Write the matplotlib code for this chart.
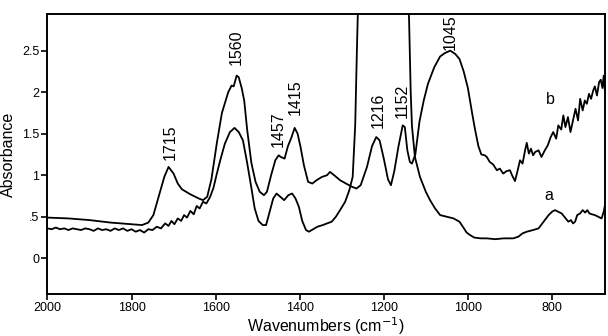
"""IR spectra a and b, absorbance vs wavenumber"""
import numpy as np
import matplotlib
matplotlib.use('Agg')
import matplotlib.pyplot as plt

plt.rcParams['font.family'] = ['Liberation Sans', 'DejaVu Sans']

#%% spectrum b (labelled peaks)
b_wn = [2000, 1950, 1900, 1850, 1800, 1775, 1760, 1748, 1735, 1722, 1712, 1700,
        1690, 1680, 1660, 1640, 1630, 1620, 1610, 1597, 1585, 1570, 1562, 1557,
        1550, 1545, 1538, 1532, 1525, 1515, 1505, 1495, 1485, 1478, 1468, 1458,
        1450, 1445, 1436, 1428, 1420, 1412, 1405, 1398, 1390, 1380, 1370, 1360,
        1347, 1335, 1328, 1318, 1304, 1290, 1275, 1265, 1255, 1240, 1228, 1218,
        1210, 1200, 1190, 1183, 1175, 1165, 1155, 1150, 1144, 1138, 1133, 1125,
        1115, 1105, 1095, 1080, 1066, 1055, 1042, 1030, 1020, 1010, 1000, 990,
        983, 975, 968, 960, 955, 948, 940, 931, 924, 916, 908, 900, 895, 888,
        882, 876, 870, 864, 860, 855, 850, 845, 840, 832, 825, 817, 810, 803,
        797, 790, 785, 778, 773, 768, 762, 756, 749, 744, 738, 733, 727, 722,
        717, 712, 707, 702, 698, 693, 688, 684, 680, 677, 674]
b_abs = [0.49, 0.48, 0.46, 0.43, 0.41, 0.40, 0.43, 0.52, 0.75, 0.98, 1.10, 1.02,
         0.90, 0.83, 0.77, 0.72, 0.70, 0.74, 0.95, 1.39, 1.75, 2.00, 2.08, 2.07,
         2.20, 2.18, 2.05, 1.90, 1.55, 1.15, 0.92, 0.80, 0.76, 0.80, 1.00, 1.18,
         1.24, 1.22, 1.20, 1.35, 1.45, 1.57, 1.50, 1.34, 1.12, 0.92, 0.90, 0.94,
         0.98, 1.00, 1.04, 1.00, 0.94, 0.90, 0.86, 0.84, 0.88, 1.10, 1.35, 1.46,
         1.42, 1.20, 0.95, 0.88, 1.05, 1.35, 1.60, 1.58, 1.30, 1.16, 1.14, 1.25,
         1.65, 1.90, 2.10, 2.30, 2.43, 2.47, 2.50, 2.46, 2.40, 2.25, 2.05, 1.75,
         1.55, 1.35, 1.25, 1.24, 1.22, 1.16, 1.13, 1.06, 1.08, 1.02, 1.05, 1.06, 1.00, 0.93,
         1.05, 1.18, 1.14, 1.30, 1.39, 1.26, 1.32, 1.24, 1.28, 1.30, 1.22, 1.30, 1.36, 1.46,
         1.52, 1.44, 1.60, 1.55, 1.72, 1.58, 1.70, 1.52, 1.68, 1.80, 1.66, 1.92, 1.78, 1.90,
         1.86, 1.98, 1.92, 2.02, 2.07, 1.96, 2.12, 2.15, 2.05, 2.20, 2.00]

#%% spectrum a
a_wn = [2000, 1990, 1980, 1970, 1960, 1950, 1940, 1930, 1920, 1910, 1900, 1890,
        1880, 1870, 1860, 1850, 1840, 1830, 1820, 1810, 1800, 1790, 1780, 1770,
        1760, 1750, 1740, 1730, 1720, 1712, 1705, 1698, 1690, 1682, 1675, 1668,
        1660, 1652, 1645, 1638, 1630, 1622, 1613, 1605, 1598, 1589, 1578, 1566,
        1555, 1545, 1535, 1525, 1515, 1507, 1498, 1488, 1480, 1472, 1463, 1455,
        1446, 1437, 1427, 1418, 1410, 1402, 1394, 1385, 1378, 1368, 1358, 1345,
        1335, 1324, 1314, 1304, 1292, 1282, 1274, 1268, 1264, 1260, 1230, 1180,
        1145, 1140, 1136, 1133, 1126, 1114, 1100, 1090, 1078, 1066, 1050, 1034,
        1020, 1012, 1003, 995, 985, 970, 955, 935, 915, 892, 880, 870, 860, 845,
        832, 820, 808, 800, 793, 785, 777, 769, 761, 755, 750, 745, 740, 733,
        727, 721, 716, 711, 705, 698, 690, 682, 677, 674]
a_abs = [0.36, 0.35, 0.37, 0.35, 0.36, 0.34, 0.36, 0.35, 0.34, 0.36, 0.35, 0.33,
         0.36, 0.34, 0.35, 0.33, 0.36, 0.34, 0.36, 0.33, 0.35, 0.32, 0.34, 0.31,
         0.35, 0.34, 0.38, 0.36, 0.42, 0.39, 0.45, 0.41, 0.48, 0.45, 0.52, 0.49,
         0.57, 0.53, 0.63, 0.60, 0.68, 0.66, 0.74, 0.85, 1.00, 1.18, 1.38, 1.52,
         1.57, 1.52, 1.42, 1.15, 0.85, 0.60, 0.45, 0.40, 0.40, 0.55, 0.72, 0.78,
         0.74, 0.70, 0.76, 0.78, 0.72, 0.62, 0.45, 0.34, 0.32, 0.35, 0.38, 0.40,
         0.42, 0.44, 0.50, 0.58, 0.68, 0.82, 0.98, 1.60, 2.50, 3.30, 4.20, 4.20,
         3.30, 2.90, 2.00, 1.59, 1.22, 0.98, 0.80, 0.70, 0.60, 0.52, 0.50, 0.48,
         0.44, 0.38, 0.31, 0.28, 0.25, 0.24, 0.24, 0.23, 0.24, 0.24, 0.26, 0.30, 0.32, 0.34,
         0.36, 0.44, 0.52, 0.56, 0.58, 0.56, 0.54, 0.49, 0.44, 0.46, 0.42, 0.44, 0.52, 0.54,
         0.58, 0.55, 0.58, 0.54, 0.53, 0.52, 0.50, 0.48, 0.56, 0.64]

peak_labels = ['1715', '1560', '1457', '1415', '1216', '1152', '1045']
peak_wn = [1708, 1550, 1451, 1411, 1214, 1155, 1041]
peak_y = [1.18, 2.33, 1.34, 1.73, 1.57, 1.69, 2.51]

#%% plot
fig = plt.figure(figsize=(6.08, 3.36), dpi=100)
ax = fig.add_axes([0.078, 0.125, 0.917, 0.833])
ax.plot(b_wn, b_abs, color='black', linewidth=1.3)
ax.plot(a_wn, a_abs, color='black', linewidth=1.3)

for lab, x, y in zip(peak_labels, peak_wn, peak_y):
    ax.text(x, y, lab, rotation=90, ha='center', va='bottom', fontsize=11.5)
ax.text(805, 1.91, 'b', ha='center', va='center', fontsize=11.5)
ax.text(807, 0.76, 'a', ha='center', va='center', fontsize=11.5)

ax.set_xlim(2000, 674)
ax.set_ylim(-0.43, 2.94)
ax.set_xticks(np.arange(2000, 700, -200))
ax.set_yticks([0, 0.5, 1, 1.5, 2, 2.5])
ax.set_yticklabels(['0', '.5', '1', '1.5', '2', '2.5'])
ax.tick_params(direction='out', length=4, width=1.2, labelsize=9, pad=2)
for sp in ax.spines.values():
    sp.set_linewidth(1.4)
ax.set_xlabel('Wavenumbers (cm$^{-1}$)', fontsize=11.5, labelpad=1)
ax.set_ylabel('Absorbance', fontsize=11.5, labelpad=4)

fig.savefig('out.png', dpi=100)
